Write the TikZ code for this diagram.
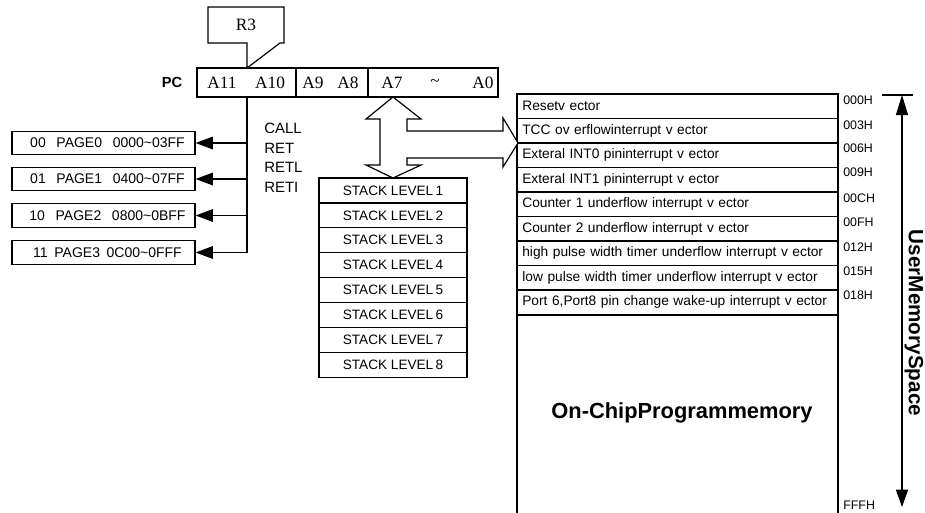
\documentclass[tikz,border=0pt]{standalone}
\usepackage{fontspec}
\setmainfont{Liberation Sans}
\newfontfamily\serifA{Liberation Serif}
\usetikzlibrary{arrows.meta}
\tikzset{
  lw/.style={line width=0.9pt},
  pagebox/.style={draw, lw, inner sep=0pt, minimum width=137.25pt, minimum height=17.6pt, font=\fontsize{10.5}{12}\selectfont},
  stackbox/.style={draw, lw, inner sep=0pt, minimum width=111pt, minimum height=18.675pt, font=\fontsize{10.2}{12}\selectfont},
  memrow/.style={draw, lw, inner xsep=4pt, inner ysep=0pt, text width=232.75pt, align=left, minimum height=18.375pt, font=\fontsize{10.3}{11}\selectfont},
  pcbox/.style={draw, lw, inner sep=0pt, minimum height=21.75pt},
  pctext/.style={font=\serifA\fontsize{13}{15}\selectfont, inner sep=0pt},
  addr/.style={anchor=west, inner sep=0pt, font=\fontsize{9.3}{11}\selectfont},
  pagearrow/.style={lw, -{Triangle[length=13pt,width=9.5pt]}},
  axisarrow/.style={lw, {Triangle[length=15pt,width=9pt]}-{Triangle[length=13pt,width=9pt]}}
}
\begin{document}
\begin{tikzpicture}[x=0.75pt,y=-0.75pt]
\clip (0,0) rectangle (925,512);
% PC register
\node[font=\bfseries\fontsize{11}{13}\selectfont] (pclabel) at (172,82) {PC};
\node[pcbox, minimum width=74.25pt] (pca) at (246.5,82.5) {};
\node[pcbox, minimum width=54pt] (pcb) at (332,82.5) {};
\node[pcbox, minimum width=97.5pt] (pcc) at (433,82.5) {};
\node[pctext] (a11) at (222,83) {A11};
\node[pctext] (a10) at (270,83) {A10};
\node[pctext] (a9) at (313,83) {A9};
\node[pctext] (a8) at (348,83) {A8};
\node[pctext] (a7) at (392,83) {A7};
\node[pctext] (tl) at (435,83) {\textasciitilde};
\node[pctext] (a0) at (483,83) {A0};
% R3 callout
\draw[lw] (208,7) -- (284,7) -- (284,43) -- (280,43) -- (247,68) -- (247,43) -- (208,43) -- cycle;
\node[font=\serifA\fontsize{13}{15}\selectfont] (r3) at (246,25) {R3};
% page boxes
\node[pagebox] (p0) at (103.5,143) {\hspace{6pt}00\hspace{8pt}PAGE0\hspace{8pt}0000\textasciitilde03FF};
\node[pagebox] (p1) at (103.5,179) {\hspace{6pt}01\hspace{8pt}PAGE1\hspace{8pt}0400\textasciitilde07FF};
\node[pagebox] (p2) at (103.5,215.5) {\hspace{6pt}10\hspace{8pt}PAGE2\hspace{8pt}0800\textasciitilde0BFF};
\node[pagebox] (p3) at (103.5,252.5) {\hspace{6pt}11\hspace{5pt}PAGE3\hspace{5pt}0C00\textasciitilde0FFF};
\coordinate (bt) at (247,97);
\coordinate (bb) at (247,252.5);
\draw[lw] (bt) -- (bb);
\draw[pagearrow] (bt |- p0.east) -- (p0.east);
\draw[pagearrow] (bt |- p1.east) -- (p1.east);
\draw[pagearrow] (bt |- p2.east) -- (p2.east);
\draw[pagearrow] (bb) -- (p3.east);
\node[anchor=north west, inner sep=0pt, align=left, font=\fontsize{11.2}{14.6}\selectfont] (calls) at (264,123) {CALL\\RET\\RETL\\RETI};
% stack
\foreach \i in {1,...,8} {
  \node[stackbox] (s\i) at (393,{178+12.45+24.9*(\i-1)}) {STACK LEVEL\,\i};
}
% memory
\node[memrow] (m1) at (677.5,106.25) {Resetv ector};
\node[memrow] (m2) at (677.5,130.75) {TCC ov erflowinterrupt v ector};
\node[memrow] (m3) at (677.5,155.25) {Exteral INT0 pininterrupt v ector};
\node[memrow] (m4) at (677.5,179.75) {Exteral INT1 pininterrupt v ector};
\node[memrow] (m5) at (677.5,204.25) {Counter 1 underflow interrupt v ector};
\node[memrow] (m6) at (677.5,228.75) {Counter 2 underflow interrupt v ector};
\node[memrow] (m7) at (677.5,253.25) {high pulse width timer underflow interrupt v ector};
\node[memrow] (m8) at (677.5,277.75) {low pulse width timer underflow interrupt v ector};
\node[memrow] (m9) at (677.5,302.25) {Port 6,Port8 pin change wake-up interrupt v ector};
\node[draw, lw, minimum width=240.75pt, minimum height=153pt, inner sep=0pt, anchor=north] (mem) at (m9.south) {};
\node[font=\bfseries\fontsize{16.4}{18}\selectfont] (onchip) at (682,413) {On-ChipProgrammemory};
% double arrow stack <-> PC and to memory
\draw[lw, fill=white] (393,97) -- (421,119) -- (407,119) -- (407,131) -- (503,131) -- (503,118) -- (518,143) -- (503,167) -- (503,158) -- (407,158) -- (407,165) -- (421,165) -- (393,178) -- (366,165) -- (380,165) -- (380,119) -- (366,119) -- cycle;
% addresses
\node[addr] (ad0) at (843,100) {000H};
\node[addr] (ad1) at (843,125) {003H};
\node[addr] (ad2) at (843,148) {006H};
\node[addr] (ad3) at (843,172) {009H};
\node[addr] (ad4) at (843,198) {00CH};
\node[addr] (ad5) at (843,222) {00FH};
\node[addr] (ad6) at (843,247) {012H};
\node[addr] (ad7) at (843,271) {015H};
\node[addr] (ad8) at (843,295) {018H};
\node[addr] (ad9) at (843,505) {FFFH};
% axis
\coordinate (axt) at (902,95);
\coordinate (axb) at (902,507);
\draw[lw] (882,95) -- (913,95);
\draw[axisarrow] (axt) -- (axb);
\node[rotate=-90, font=\bfseries\fontsize{15.5}{17}\selectfont] (ums) at (914,323) {UserMemorySpace};
\end{tikzpicture}
\end{document}
